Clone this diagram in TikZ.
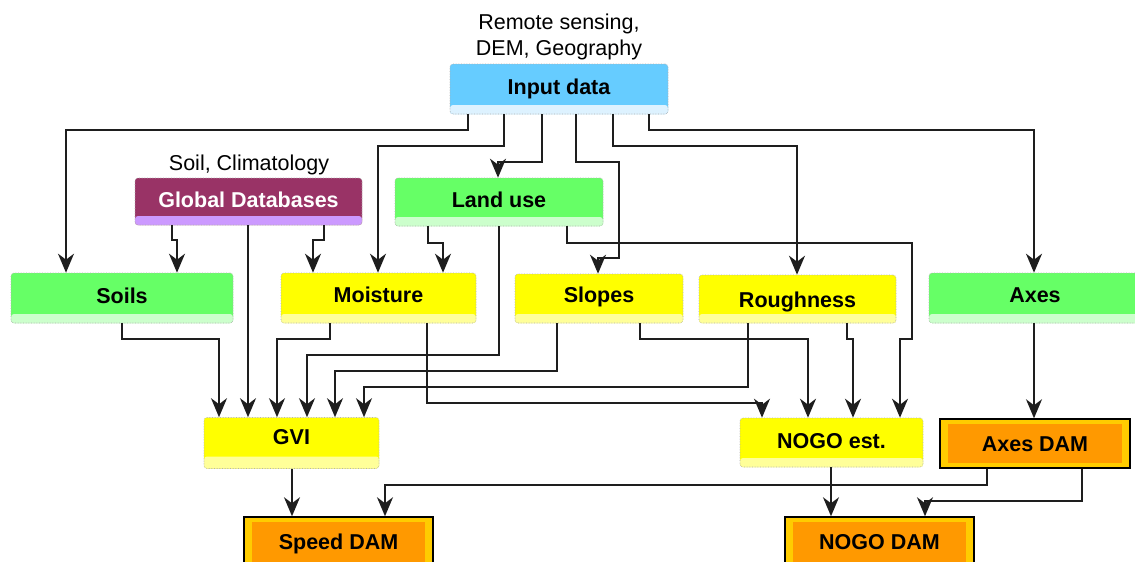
\documentclass[tikz,border=0pt]{standalone}
\usepackage{fontspec}
\setmainfont{Liberation Sans}
\usetikzlibrary{arrows.meta}
\definecolor{cblue}{HTML}{66CCFF}
\definecolor{cbluel}{HTML}{DDF2FF}
\definecolor{cgreen}{HTML}{66FF66}
\definecolor{cgreenl}{HTML}{CCFFCC}
\definecolor{cyel}{HTML}{FFFF00}
\definecolor{cyell}{HTML}{FFFF99}
\definecolor{cmar}{HTML}{993366}
\definecolor{cmarl}{HTML}{CC99FF}
\definecolor{damout}{HTML}{FFCC00}
\definecolor{damin}{HTML}{FF9900}
\definecolor{lnc}{HTML}{1E1E1E}
\def\stripH{9pt}
\begin{document}
\begin{tikzpicture}[x=1pt,y=-1pt,
  strip/.code={\def\stripH{#1}},
  bigfont/.style={font=\bfseries\fontsize{21.5pt}{26pt}\selectfont},
  lab/.style={font=\fontsize{21.5pt}{26pt}\selectfont, align=center, inner sep=0pt},
  box/.style 2 args={rectangle, rounded corners=3pt, draw=gray!60, densely dotted,
    line width=0.6pt, inner sep=0pt, bigfont, text height=15.5pt, text depth=4pt,
    fill=#1, path picture={\fill[#2] ([yshift=\stripH]path picture bounding box.south west)
      rectangle (path picture bounding box.south east);}},
  dam/.style={rectangle, draw=black, line width=1.5pt, fill=damout, inner sep=0pt,
    bigfont, text height=15.5pt, text depth=0pt, minimum width=189pt, minimum height=50pt,
    path picture={\fill[damin] ([xshift=8pt,yshift=5pt]path picture bounding box.south west)
      rectangle ([xshift=-8pt,yshift=-5pt]path picture bounding box.north east);}},
  arr/.style={draw=lnc, line width=1.7pt, -{Stealth[length=19pt,width=16pt,inset=6pt]}},
  ]
\fill[white] (0,0) rectangle (1135,562);
\useasboundingbox (0,0) rectangle (1135,562);

% labels
\node[lab] (rs) at (559,36.5) {Remote sensing,\\DEM, Geography};
\node[lab] (sc) at (249,164.5) {Soil, Climatology};

% boxes
\node[box={cblue}{cbluel}, minimum width=218pt, minimum height=50pt] (inp) at (559,89) {Input data};
\node[box={cmar}{cmarl}, text=white, minimum width=227pt, minimum height=47pt] (gdb) at (248.5,201.5) {Global Databases};
\node[box={cgreen}{cgreenl}, minimum width=208pt, minimum height=48pt] (land) at (499,202) {Land use};
\node[box={cgreen}{cgreenl}, minimum width=222pt, minimum height=50pt, text depth=5pt] (soils) at (122,298) {Soils};
\node[box={cyel}{cyell}, minimum width=195pt, minimum height=50pt, text depth=6pt] (moist) at (378.5,298) {Moisture};
\node[box={cyel}{cyell}, minimum width=168pt, minimum height=49pt, text depth=7pt] (slopes) at (599,298.5) {Slopes};
\node[box={cyel}{cyell}, minimum width=197pt, minimum height=48pt, text height=17.5pt, text depth=0pt] (rough) at (797.5,299) {Roughness};
\node[box={cgreen}{cgreenl}, minimum width=212pt, minimum height=50pt, text depth=6pt] (axes) at (1035,298) {Axes};
\node[box={cyel}{cyell}, strip=12pt, minimum width=175pt, minimum height=51pt, text depth=12pt] (gvi) at (291.5,443) {GVI};
\node[box={cyel}{cyell}, minimum width=183pt, minimum height=49pt] (nogoest) at (831.5,442.5) {NOGO est.};
\node[dam, minimum width=190pt, minimum height=49pt] (axesdam) at (1035,443.5) {Axes DAM};
\node[dam] (speeddam) at (338.5,542) {Speed DAM};
\node[dam] (nogodam) at (879.5,542) {NOGO DAM};

% connectors from Input data
\draw[arr] (inp.south -| 468,0) |- (66,130) -- (soils.north -| 66,0);
\draw[arr] (inp.south -| 504,0) |- (378,146) -- (moist.north -| 378,0);
\draw[arr] (inp.south -| 542,0) |- (498,162) -- (land.north -| 498,0);
\draw[arr] (inp.south -| 576,0) |- (619,162) |- (598,258) -- (slopes.north -| 598,0);
\draw[arr] (inp.south -| 613,0) |- (797,146) -- (rough.north -| 797,0);
\draw[arr] (inp.south -| 649,0) |- (1034,130) -- (axes.north -| 1034,0);

% from Global Databases
\draw[arr] (gdb.south -| 172,0) |- (177,240) -- (soils.north -| 177,0);
\draw[arr] (gdb.south -| 248,0) -- (gvi.north -| 248,0);
\draw[arr] (gdb.south -| 324,0) |- (313,240) -- (moist.north -| 313,0);

% from Land use
\draw[arr] (land.south -| 428,0) |- (443,243) -- (moist.north -| 443,0);
\draw[arr] (land.south -| 499,0) |- (307,355) -- (gvi.north -| 307,0);
\draw[arr] (land.south -| 567,0) |- (912,243) |- (900,339) -- (nogoest.north -| 900,0);

% from second row
\draw[arr] (soils.south -| 122,0) |- (219,339) -- (gvi.north -| 219,0);
\draw[arr] (moist.south -| 330,0) |- (277,339) -- (gvi.north -| 277,0);
\draw[arr] (slopes.south -| 557,0) |- (335,371) -- (gvi.north -| 335,0);
\draw[arr] (rough.south -| 748,0) |- (364,387) -- (gvi.north -| 364,0);
\draw[arr] (moist.south -| 427,0) |- (762,403) -- (nogoest.north -| 762,0);
\draw[arr] (slopes.south -| 640,0) |- (808,339) -- (nogoest.north -| 808,0);
\draw[arr] (rough.south -| 847,0) |- (853,339) -- (nogoest.north -| 853,0);
\draw[arr] (axes.south -| 1034,0) -- (axesdam.north -| 1034,0);

% third row
\draw[arr] (gvi.south -| 292,0) -- (speeddam.north -| 292,0);
\draw[arr] (axesdam.south -| 987,0) |- (385,485) -- (speeddam.north -| 385,0);
\draw[arr] (nogoest.south -| 831,0) -- (nogodam.north -| 831,0);
\draw[arr] (axesdam.south -| 1082,0) |- (925,501) -- (nogodam.north -| 925,0);
\end{tikzpicture}
\end{document}
